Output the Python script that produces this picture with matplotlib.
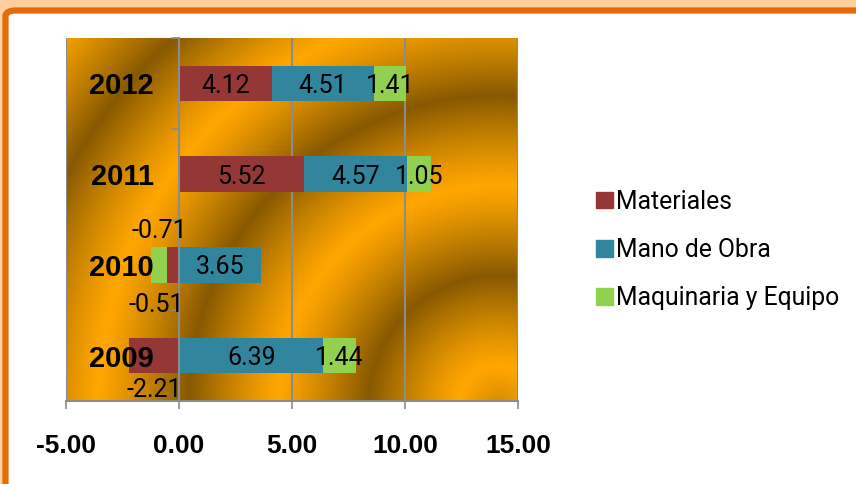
import numpy as np
import matplotlib
matplotlib.use("Agg")
import matplotlib.pyplot as plt
from matplotlib.patches import FancyBboxPatch, Rectangle

years = ["2009", "2010", "2011", "2012"]
materiales = [-2.21, -0.51, 5.52, 4.12]
mano_obra = [6.39, 3.65, 4.57, 4.51]
maquinaria = [1.44, -0.71, 1.05, 1.41]
series_names = ["Materiales", "Mano de Obra", "Maquinaria y Equipo"]
series_colors = ["#953735", "#31859C", "#92D050"]
x_ticks = [-5, 0, 5, 10, 15]

W, H = 856, 484
fig = plt.figure(figsize=(W / 100, H / 100), dpi=100)
fig.patch.set_facecolor("#FFCF9C")

# orange frame with white inside
frame = FancyBboxPatch((5.5 / W, -0.2), 1.2, (H - 10.5) / H + 0.2,
                       boxstyle="round,pad=0,rounding_size=0.012",
                       transform=fig.transFigure, facecolor="white",
                       edgecolor="#E46C0A", linewidth=4.5, zorder=-5)
fig.patches.append(frame)

left, top, right, bottom = 66, 38, 518, 401
ax = fig.add_axes([left / W, (H - bottom) / H, (right - left) / W, (bottom - top) / H])

# ring texture behind the bars
pw, ph = right - left, bottom - top
xx, yy = np.meshgrid(np.arange(pw), np.arange(ph))
cx, cy = 498 - left, 405 - top
r = np.hypot(xx - cx, yy - cy)
period = 180.0
t = np.abs(((r - 40) / period) % 1.0 * 2 - 1)
w = (1 - t)[..., None] ** 1.2
bright = np.array([255, 166, 0]) / 255
dark = np.array([135, 89, 0]) / 255
img = bright[None, None, :] * (1 - w) + dark[None, None, :] * w
ax.imshow(img, extent=[-5, 15, -0.5, 3.5], aspect="auto", zorder=0, interpolation="bilinear")

y = np.arange(len(years))
h = 0.39
mat = np.array(materiales)
mo = np.array(mano_obra)
maq = np.array(maquinaria)

# stack positives and negatives separately
pos_base = np.zeros(len(years))
neg_base = np.zeros(len(years))
segments = []
for vals, color in zip([mat, mo, maq], series_colors):
    lefts = np.where(vals >= 0, pos_base, neg_base)
    ax.barh(y, vals, left=lefts, height=h, color=color, zorder=3)
    segments.append((lefts, vals))
    pos_base = pos_base + np.where(vals >= 0, vals, 0)
    neg_base = neg_base + np.where(vals < 0, vals, 0)

label_font = dict(family="Roboto", fontsize=18, color="black", zorder=6)
for lefts, vals in segments:
    for i, (l, v) in enumerate(zip(lefts, vals)):
        cxv = l + v / 2
        dx, dy = 0, 0
        if v < 0:
            if v == -0.71:
                dx, dy = 0, 26
            elif v == -0.51:
                dx, dy = -12, -27
            else:
                dx, dy = 0, -23
        ax.annotate(f"{v:.2f}", (cxv, y[i]), xytext=(dx, dy), textcoords="offset points",
                    ha="center", va="center_baseline", **label_font)

# year labels sit just left of the zero axis, above the bars
for yi, name in zip(y, years):
    ax.annotate(name, (0, yi), xytext=(-18, 0), textcoords="offset points",
                ha="right", va="center_baseline", fontsize=21, fontweight="bold",
                family="Liberation Sans", zorder=7)

ax.set_xlim(-5, 15)
ax.set_ylim(-0.5, 3.5)
ax.set_xticks(x_ticks)
ax.set_xticklabels([f"{v:.2f}" for v in x_ticks], fontsize=19, fontweight="bold",
                   family="Liberation Sans")
ax.tick_params(axis="x", direction="out", length=6, width=1.2, color="#8C8C8C", pad=18)

ax.spines["left"].set_position(("data", 0))
ax.set_yticks([0.5, 1.5, 2.5, 3.5])
ax.set_yticklabels([])
ax.tick_params(axis="y", direction="out", length=6, width=1.2, color="#8C8C8C")

for side in ["top", "right"]:
    ax.spines[side].set_visible(False)
for side in ["left", "bottom"]:
    ax.spines[side].set_color("#8C8C8C")
    ax.spines[side].set_linewidth(1.5)
    ax.spines[side].set_zorder(4)
ax.grid(axis="x", color="#8C8C8C", linewidth=1.5, zorder=1)
ax.set_axisbelow(True)

handles = [Rectangle((0, 0), 1, 1, color=c) for c in series_colors]
leg = fig.legend(handles, series_names, loc="center left", bbox_to_anchor=(574 / W, 1 - 250 / H),
                 frameon=False, handlelength=0.66, handleheight=0.66, handletextpad=0.12,
                 labelspacing=0.98, prop=dict(family="Roboto", size=17.8))

fig.savefig("out.png", dpi=100)
